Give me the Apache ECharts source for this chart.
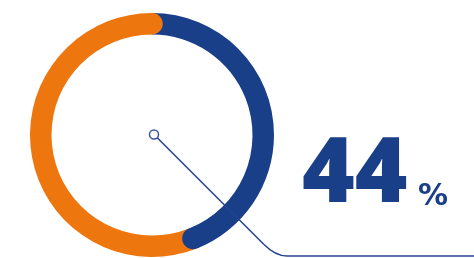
<!DOCTYPE html>
<html>
<head>
<meta charset="utf-8">
<script src="https://cdn.jsdelivr.net/npm/echarts@6/dist/echarts.min.js"></script>
<style>
  html, body { margin: 0; padding: 0; background: #fff; }
  #chart { width: 474px; height: 258px; }
</style>
</head>
<body>
<div id="chart"></div>
<script>
// ring data: first part is the blue share shown as the big number
const names = ['done', 'rest'];
const values = [44, 56];
const colors = ['#1a3f89', '#ee760e'];

const center = [152, 135];
const ringRadius = [100.5, 122];

const leaderStyle = { fill: null, stroke: '#23428f', lineWidth: 1.5 };

const chart = echarts.init(document.getElementById('chart'));

chart.setOption({
  animation: false,
  polar: { center: center, radius: ringRadius },
  angleAxis: { type: 'value', min: 0, max: 100, startAngle: 90, clockwise: true, show: false },
  radiusAxis: { type: 'category', data: ['ring'], show: false },
  series: [
    {
      type: 'bar', coordinateSystem: 'polar', stack: 'ring', name: names[0],
      data: [values[0]], barWidth: '100%', itemStyle: { color: colors[0] }, z: 2
    },
    {
      type: 'bar', coordinateSystem: 'polar', stack: 'ring', name: names[1],
      data: [values[1]], barWidth: '100%', itemStyle: { color: colors[1] }, z: 2
    },
    // round ends: each part ends with a cap laid over the next part
    {
      type: 'scatter', coordinateSystem: 'polar', symbolSize: 21.5,
      data: [[0, values[0]]], itemStyle: { color: colors[0], opacity: 1 }, z: 3, silent: true
    },
    {
      type: 'scatter', coordinateSystem: 'polar', symbolSize: 21.5,
      data: [[0, values[0] + values[1]]], itemStyle: { color: colors[1], opacity: 1 }, z: 3, silent: true
    }
  ],
  graphic: [
    {
      type: 'line', z: 100,
      shape: { x1: 157.2, y1: 137.7, x2: 264, y2: 244.5 },
      style: leaderStyle
    },
    {
      type: 'bezierCurve', z: 100,
      shape: { x1: 264, y1: 244.5, cpx1: 275.5, cpy1: 256, x2: 287, y2: 256 },
      style: leaderStyle
    },
    {
      type: 'line', z: 100,
      shape: { x1: 287, y1: 256, x2: 476, y2: 256 },
      style: leaderStyle
    },
    {
      type: 'circle', z: 101,
      shape: { cx: 154, cy: 134.5, r: 4.5 },
      style: { fill: '#fff', stroke: '#3a55a5', lineWidth: 1.5 }
    },
    {
      type: 'text', z: 100, x: 302, y: 221,
      style: {
        text: String(values[0]), fill: colors[0],
        font: '800 90px "Open Sans"', verticalAlign: 'bottom'
      }
    },
    {
      type: 'text', z: 100, x: 418, y: 212,
      style: {
        text: '%', fill: colors[0],
        font: 'bold 30px "DejaVu Sans"', verticalAlign: 'bottom'
      }
    }
  ]
});
</script>
</body>
</html>
